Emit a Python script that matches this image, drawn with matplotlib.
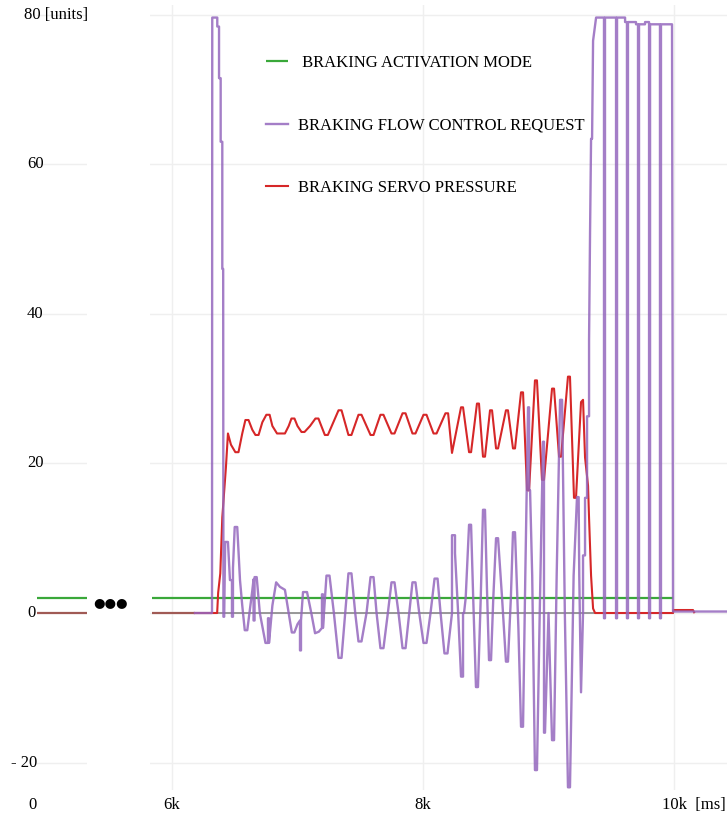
import matplotlib
matplotlib.use("Agg")
import matplotlib.pyplot as plt
from matplotlib import transforms

# ---------------- data ----------------
# braking flow control request: (time [ms], value [units])
flow_points = [
    (6183, 0), (6319, 0), (6321, 79.6), (6361, 79.6), (6361, 78.4), (6375, 78.4),
    (6375, 71.5), (6388, 71.5), (6388, 63), (6401, 63), (6401, 46), (6408, 46),
    (6410, -0.5), (6416, -0.5), (6424, 9.5), (6446, 9.5), (6462, 4.4), (6478, 4.4),
    (6478, -0.5), (6486, -0.5), (6486, 6), (6500, 11.5), (6520, 11.5), (6542, 4.4),
    (6560, 1), (6580, -2.3), (6600, -2.3), (6640, 3), (6650, 4.5), (6650, -1),
    (6658, -1), (6658, 4.8), (6675, 4.8), (6700, 0), (6745, -4), (6765, -4),
    (6765, -0.7), (6773, -0.7), (6773, -4), (6800, 1), (6830, 4.1), (6860, 3.5),
    (6900, 3.1), (6930, 0), (6955, -2.6), (6975, -2.6), (7000, -1.5), (7020, -1),
    (7020, -5), (7028, -5), (7028, -1), (7044, 2.8), (7076, 2.8), (7110, 0),
    (7140, -2.7), (7170, -2.5), (7195, -2), (7195, 2.5), (7203, 2.5), (7203, -2),
    (7231, 5), (7255, 5), (7290, 0), (7327, -6), (7351, -6), (7380, 0),
    (7406, 5.3), (7430, 5.3), (7460, 0), (7486, -3.8), (7510, -3.8), (7550, 0),
    (7582, 4.8), (7606, 4.8), (7630, 0), (7661, -4.7), (7685, -4.7), (7720, 0),
    (7749, 4.1), (7773, 4.1), (7805, 0), (7837, -4.7), (7861, -4.7), (7890, 0),
    (7916, 4.1), (7940, 4.1), (7970, 0), (8004, -4), (8028, -4), (8060, 0),
    (8092, 4.6), (8116, 4.6), (8140, 0), (8171, -5.4), (8195, -5.4), (8231, 0),
    (8231, 10.4), (8255, 10.4), (8255, 8), (8280, 0), (8303, -8.5), (8319, -8.5),
    (8319, 0), (8327, 0), (8340, 2), (8367, 11.8), (8383, 11.8), (8400, 2),
    (8422, -9.9), (8438, -9.9), (8460, 2), (8478, 13.8), (8494, 13.8), (8510, 3),
    (8526, -6.3), (8542, -6.3), (8560, 2), (8582, 10), (8598, 10), (8630, 2),
    (8661, -6.5), (8677, -6.5), (8700, 2), (8717, 10.8), (8733, 10.8), (8760, -2),
    (8781, -15.2), (8797, -15.2), (8815, 5), (8837, 27.5), (8845, 27.5), (8845, 16.4),
    (8853, 16.4), (8870, 5), (8892, -21), (8908, -21), (8930, 0), (8956, 22.9),
    (8964, 22.9), (8964, -16), (8972, -16), (9000, 0), (9028, -17), (9044, -17),
    (9065, 5), (9092, 28.5), (9108, 28.5), (9130, 0), (9155, -23.3), (9171, -23.3),
    (9200, 5), (9227, 15.5), (9240, 15.5), (9245, 5), (9259, -10.6), (9275, 0),
    (9275, 7.7), (9291, 7.7), (9291, 15.4), (9307, 15.4), (9307, 26.3), (9323, 26.3),
    (9323, 36.5), (9331, 51), (9339, 63.4), (9347, 63.4), (9355, 76.5), (9371, 78.6),
    (9379, 79.6), (9442, 79.6), (9442, -0.7), (9450, -0.7), (9450, 79.6), (9538, 79.6),
    (9538, -0.7), (9546, -0.7), (9546, 79.6), (9610, 79.6), (9610, 79.0), (9625, 79.0),
    (9625, -0.7), (9633, -0.7), (9633, 79.0), (9697, 79.0), (9697, 78.7), (9713, 78.7),
    (9713, -0.7), (9721, -0.7), (9721, 78.7), (9769, 78.7), (9769, 79.0), (9801, 79.0),
    (9801, -0.7), (9809, -0.7), (9809, 78.7), (9888, 78.7), (9888, -0.7), (9896, -0.7),
    (9896, 78.7), (9984, 78.7), (9992, 0.2), (10422, 0.2),
]

# braking servo pressure: (time [ms], value [units])
servo_points = [
    (6183, 0), (6360, 0), (6368, 2.7), (6385, 5.3), (6401, 12.8), (6430, 19.5),
    (6446, 24), (6470, 22.5), (6505, 21.5), (6530, 21.5), (6560, 24), (6585, 25.8),
    (6610, 25.8), (6640, 24.5), (6665, 23.8), (6690, 23.8), (6720, 25.5), (6752, 26.5),
    (6778, 26.5), (6800, 25), (6837, 24.0), (6900, 24.0), (6930, 25), (6952, 26),
    (6976, 26), (7000, 25), (7032, 24.2), (7056, 24.2), (7100, 25), (7143, 26),
    (7167, 26), (7190, 25), (7218, 23.8), (7242, 23.8), (7327, 27.1), (7351, 27.1),
    (7406, 23.8), (7430, 23.8), (7486, 26.5), (7510, 26.5), (7582, 23.8), (7606, 23.8),
    (7661, 26.5), (7685, 26.5), (7749, 24), (7773, 24), (7837, 26.7), (7861, 26.7),
    (7916, 24), (7940, 24), (8004, 26.5), (8028, 26.5), (8084, 24), (8108, 24),
    (8179, 26.7), (8200, 26.7), (8231, 21.4), (8303, 27.5), (8319, 27.5), (8367, 21.5),
    (8383, 21.5), (8430, 28), (8446, 28), (8478, 20.9), (8494, 20.9), (8534, 27.1),
    (8550, 27.1), (8582, 22), (8598, 22), (8661, 27.1), (8677, 27.1), (8717, 22),
    (8733, 22), (8781, 29.5), (8797, 29.5), (8829, 16.4), (8845, 16.4), (8892, 31.1),
    (8908, 31.1), (8948, 17.8), (8964, 17.8), (9028, 30), (9044, 30), (9084, 20.9),
    (9100, 20.9), (9155, 31.6), (9171, 31.6), (9203, 15.4), (9219, 15.4), (9259, 28.2),
    (9275, 28.5), (9291, 20.8), (9315, 17), (9323, 12.7), (9339, 5), (9355, 0.6),
    (9371, 0), (9992, 0), (9995, 0.4), (10151, 0.4), (10160, 0.1),
]

# braking activation mode
mode_t = [5840, 9992]
mode_v = [2.0, 2.0]

# idle signals at zero
idle_t = [5840, 6183]
idle_v = [0, 0]
base_t = [6183, 9992]
base_v = [0, 0]

# leading segment of the record (0 ms onward, axis broken afterwards)
lead_t = [0, 400]
lead_mode = [2.0, 2.0]
lead_idle = [0, 0]

y_ticks = [80, 60, 40, 20, 0, -20]
y_labels = ["80 [units]", "60", "40", "20", "0", "- 20"]
x_ticks = [6000, 8000, 10000]
x_labels = ["6k", "8k", "10k  [ms]"]

flow_t, flow_v = zip(*flow_points)
servo_t, servo_v = zip(*servo_points)

GREEN = "#3aa83a"
PURPLE = "#9467bd"
RED = "#d62728"
BROWN = "#a05a55"
GRAY = "#7f7f7f"
GRID = "#efefef"
SERIF = "Liberation Serif"

# ---------------- layout ----------------
W, H = 727, 819
fig = plt.figure(figsize=(W / 100, H / 100), dpi=100)


def px_rect(x0, y0, x1, y1):
    return [x0 / W, 1 - y1 / H, (x1 - x0) / W, (y1 - y0) / H]


YLIM = (-23.66, 81.28)
ax = fig.add_axes(px_rect(150, 5, 727, 790))
axl = fig.add_axes(px_rect(37, 5, 87, 790))

for a in (ax, axl):
    a.set_ylim(*YLIM)
    for s in a.spines.values():
        s.set_visible(False)
    a.set_xticks([])
    a.set_yticks([])
    a.set_facecolor("none")

ax.set_xlim(5825, 10422)
axl.set_xlim(0, 400)

# light grid
for yv in y_ticks:
    ax.axhline(yv, color=GRID, lw=1, zorder=0)
for xv in x_ticks:
    ax.axvline(xv, color=GRID, lw=1, zorder=0)
for yv in [80, 60, 40, 20, -20]:
    axl.axhline(yv, color=GRID, lw=1, zorder=0)

# leading segment
axl.plot(lead_t, lead_mode, color=GREEN, lw=1.6, solid_capstyle="butt")
axl.plot(lead_t, lead_idle, color=BROWN, lw=1.6, solid_capstyle="butt")

# main traces
ax.plot(base_t, base_v, color=GRAY, lw=1.1, zorder=1)
ax.plot(idle_t, idle_v, color=BROWN, lw=1.6, zorder=2, solid_capstyle="butt")
l_mode, = ax.plot(mode_t, mode_v, color=GREEN, lw=1.6, zorder=3,
                  solid_capstyle="butt", label=" BRAKING ACTIVATION MODE")
l_servo, = ax.plot(servo_t, servo_v, color=RED, lw=1.5, zorder=4,
                   label="BRAKING SERVO PRESSURE")
l_flow, = ax.plot(flow_t, flow_v, color=PURPLE, lw=1.7, alpha=0.85, zorder=5,
                  label="BRAKING FLOW CONTROL REQUEST")

# axis break marker
fig.text(110 / W, 1 - 603 / H, "\u25cf\u25cf\u25cf", ha="center", va="center",
         fontsize=9.5, family="DejaVu Sans", color="black")

# y tick labels
ytrans = transforms.blended_transform_factory(fig.transFigure, ax.transData)
y_left = {"80 [units]": 24, "- 20": 11}
for yv, lab in zip(y_ticks, y_labels):
    fig.text(y_left.get(lab, 27) / W, yv, lab, transform=ytrans,
             ha="left", va="center", fontsize=12, family=SERIF)

# x tick labels
xtrans = transforms.blended_transform_factory(ax.transData, fig.transFigure)
for xv, lab in zip(x_ticks, x_labels):
    ha = "left" if "ms" in lab else "center"
    off = -95 if "ms" in lab else 0
    fig.text(xv + off, 1 - 805 / H, lab, transform=xtrans, ha=ha, va="center",
             fontsize=12, family=SERIF)
xltrans = transforms.blended_transform_factory(axl.transData, fig.transFigure)
fig.text(0, 1 - 805 / H, "0", transform=xltrans, ha="right", va="center",
         fontsize=12, family=SERIF)

# legend
fig.legend(handles=[l_mode, l_flow, l_servo], loc="upper left",
           bbox_to_anchor=(251 / W, 1 - 40 / H), frameon=False,
           prop={"family": SERIF, "size": 12}, handlelength=1.3,
           handletextpad=0.6, labelspacing=2.8)

fig.savefig("out.png", dpi=100, facecolor="white")
